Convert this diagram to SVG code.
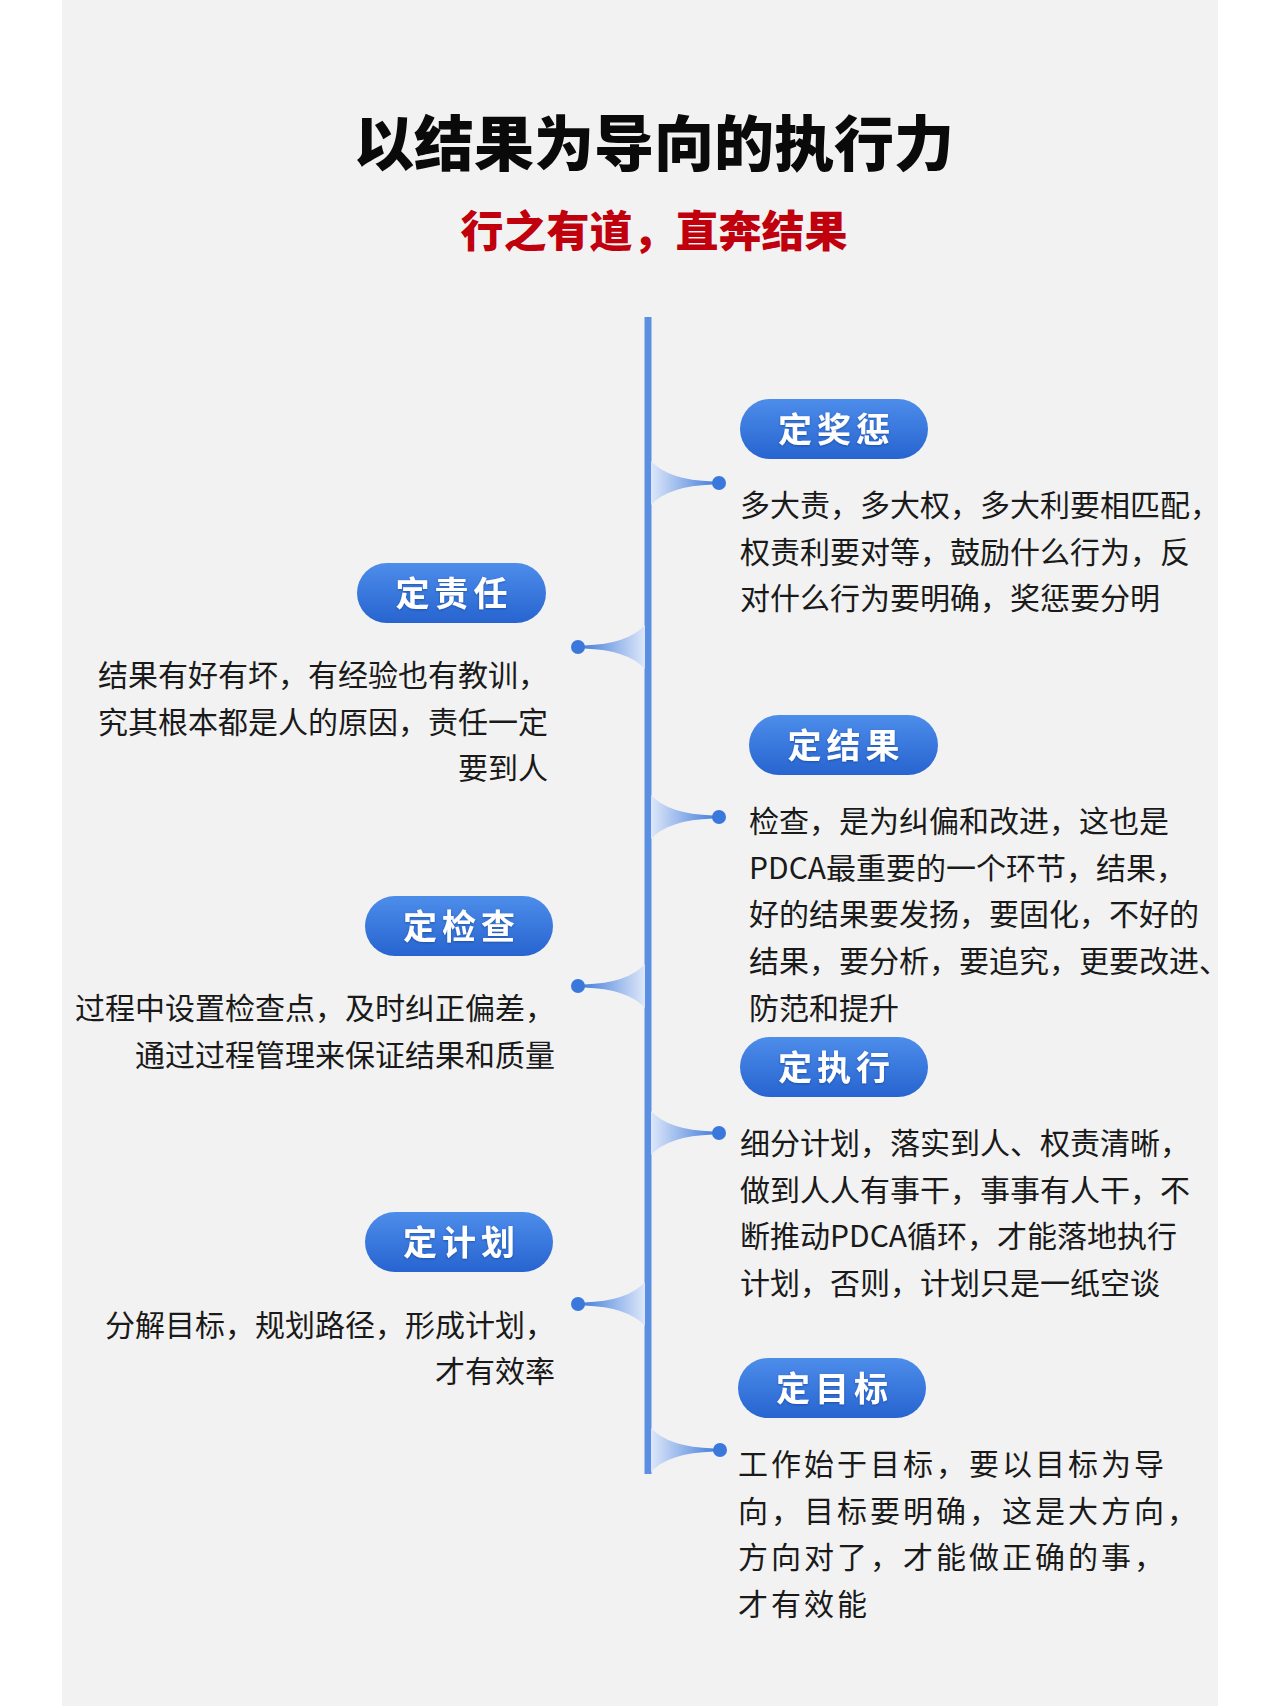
<svg xmlns="http://www.w3.org/2000/svg" width="1280" height="1706" viewBox="0 0 1280 1706">
<defs>
<linearGradient id="pillGrad" x1="0" y1="0" x2="0" y2="1">
<stop offset="0" stop-color="#4d8dea"/>
<stop offset="1" stop-color="#2764d0"/>
</linearGradient>
<linearGradient id="spikeR" x1="0" y1="0" x2="1" y2="0">
<stop offset="0" stop-color="#dde7f9"/>
<stop offset="1" stop-color="#4a82dc"/>
</linearGradient>
<linearGradient id="spikeL" x1="1" y1="0" x2="0" y2="0">
<stop offset="0" stop-color="#dde7f9"/>
<stop offset="1" stop-color="#4a82dc"/>
</linearGradient>
<filter id="ts" x="-10%" y="-10%" width="120%" height="130%">
<feDropShadow dx="0" dy="1" stdDeviation="1" flood-color="#0b2a6e" flood-opacity="0.45"/>
</filter>
</defs>
<style>
.title{font-family:"Noto Sans CJK SC","Noto Sans",sans-serif;font-weight:900;font-size:60px;fill:#0a0a0a;text-anchor:middle}
.sub{font-family:"Noto Sans CJK SC","Noto Sans",sans-serif;font-weight:900;font-size:43px;fill:#c0000c;text-anchor:middle}
.pill{fill:url(#pillGrad)}
.plabel{font-family:"Noto Sans CJK SC","Noto Sans",sans-serif;font-weight:700;font-size:34px;fill:#ffffff;text-anchor:middle;letter-spacing:5px}
.body{font-family:"Noto Sans CJK SC","Noto Sans",sans-serif;font-weight:400;font-size:30px;fill:#1a1a1a}
.end{text-anchor:end}
.wide{letter-spacing:3px}
.dot{fill:#3b78dc}
.spine{fill:#5b8fe2}
</style>
<rect x="0" y="0" width="1280" height="1706" fill="#ffffff"/>
<rect x="62" y="0" width="1156" height="1706" fill="#f2f2f2"/>
<g id="header">
<text class="title" x="654" y="166">以结果为导向的执行力</text>
<text class="sub" x="654" y="247">行之有道，直奔结果</text>
</g>
<g id="connectors">
<rect class="spine" x="644.5" y="317" width="7" height="1157"/>
<path fill="url(#spikeR)" d="M651,461 Q668,480 713,481.5 L713,484.5 Q668,486 651,505 Z"/>
<path fill="url(#spikeL)" d="M645,625 Q628,644 584,645.5 L584,648.5 Q628,650 645,669 Z"/>
<path fill="url(#spikeR)" d="M651,795 Q668,814 713,815.5 L713,818.5 Q668,820 651,839 Z"/>
<path fill="url(#spikeL)" d="M645,964 Q628,983 584,984.5 L584,987.5 Q628,989 645,1008 Z"/>
<path fill="url(#spikeR)" d="M651,1111 Q668,1130 713,1131.5 L713,1134.5 Q668,1136 651,1155 Z"/>
<path fill="url(#spikeL)" d="M645,1282 Q628,1301 584,1302.5 L584,1305.5 Q628,1307 645,1326 Z"/>
<path fill="url(#spikeR)" d="M651,1428 Q668,1447 714,1448.5 L714,1451.5 Q668,1453 651,1472 Z"/>
<circle class="dot" cx="719" cy="483" r="7"/>
<circle class="dot" cx="578" cy="647" r="7"/>
<circle class="dot" cx="719" cy="817" r="7"/>
<circle class="dot" cx="578" cy="986" r="7"/>
<circle class="dot" cx="719" cy="1133" r="7"/>
<circle class="dot" cx="578" cy="1304" r="7"/>
<circle class="dot" cx="720" cy="1450" r="7"/>
</g>
<g id="node-jiangcheng">
<rect class="pill" x="740" y="399" width="188" height="60" rx="30"/>
<text class="plabel" filter="url(#ts)" x="836.5" y="442">定奖惩</text>
<text class="body" x="740" y="516">多大责，多大权，多大利要相匹配，</text>
<text class="body" x="740" y="563">权责利要对等，鼓励什么行为，反</text>
<text class="body" x="740" y="609">对什么行为要明确，奖惩要分明</text>
</g>
<g id="node-zeren">
<rect class="pill" x="357" y="563" width="189" height="60" rx="30"/>
<text class="plabel" filter="url(#ts)" x="454" y="606">定责任</text>
<text class="body end" x="548" y="686">结果有好有坏，有经验也有教训，</text>
<text class="body end" x="548" y="733">究其根本都是人的原因，责任一定</text>
<text class="body end" x="548" y="779">要到人</text>
</g>
<g id="node-jieguo">
<rect class="pill" x="749" y="715" width="189" height="60" rx="30"/>
<text class="plabel" filter="url(#ts)" x="846" y="758">定结果</text>
<text class="body" x="749" y="832">检查，是为纠偏和改进，这也是</text>
<text class="body" x="749" y="879">PDCA最重要的一个环节，结果，</text>
<text class="body" x="749" y="925">好的结果要发扬，要固化，不好的</text>
<text class="body" x="749" y="972">结果，要分析，要追究，更要改进、</text>
<text class="body" x="749" y="1019">防范和提升</text>
</g>
<g id="node-jiancha">
<rect class="pill" x="365" y="896" width="188" height="60" rx="30"/>
<text class="plabel" filter="url(#ts)" x="461.5" y="939">定检查</text>
<text class="body end" x="555" y="1019">过程中设置检查点，及时纠正偏差，</text>
<text class="body end" x="555" y="1066">通过过程管理来保证结果和质量</text>
</g>
<g id="node-zhixing">
<rect class="pill" x="740" y="1037" width="188" height="60" rx="30"/>
<text class="plabel" filter="url(#ts)" x="836.5" y="1080">定执行</text>
<text class="body" x="740" y="1154">细分计划，落实到人、权责清晰，</text>
<text class="body" x="740" y="1201">做到人人有事干，事事有人干，不</text>
<text class="body" x="740" y="1247">断推动PDCA循环，才能落地执行</text>
<text class="body" x="740" y="1294">计划，否则，计划只是一纸空谈</text>
</g>
<g id="node-jihua">
<rect class="pill" x="365" y="1212" width="188" height="60" rx="30"/>
<text class="plabel" filter="url(#ts)" x="461.5" y="1255">定计划</text>
<text class="body end" x="555" y="1336">分解目标，规划路径，形成计划，</text>
<text class="body end" x="555" y="1382">才有效率</text>
</g>
<g id="node-mubiao">
<rect class="pill" x="738" y="1358" width="188" height="60" rx="30"/>
<text class="plabel" filter="url(#ts)" x="834.5" y="1401">定目标</text>
<text class="body wide" x="738" y="1475">工作始于目标，要以目标为导</text>
<text class="body wide" x="738" y="1522">向，目标要明确，这是大方向，</text>
<text class="body wide" x="738" y="1568">方向对了，才能做正确的事，</text>
<text class="body wide" x="738" y="1615">才有效能</text>
</g>
</svg>
